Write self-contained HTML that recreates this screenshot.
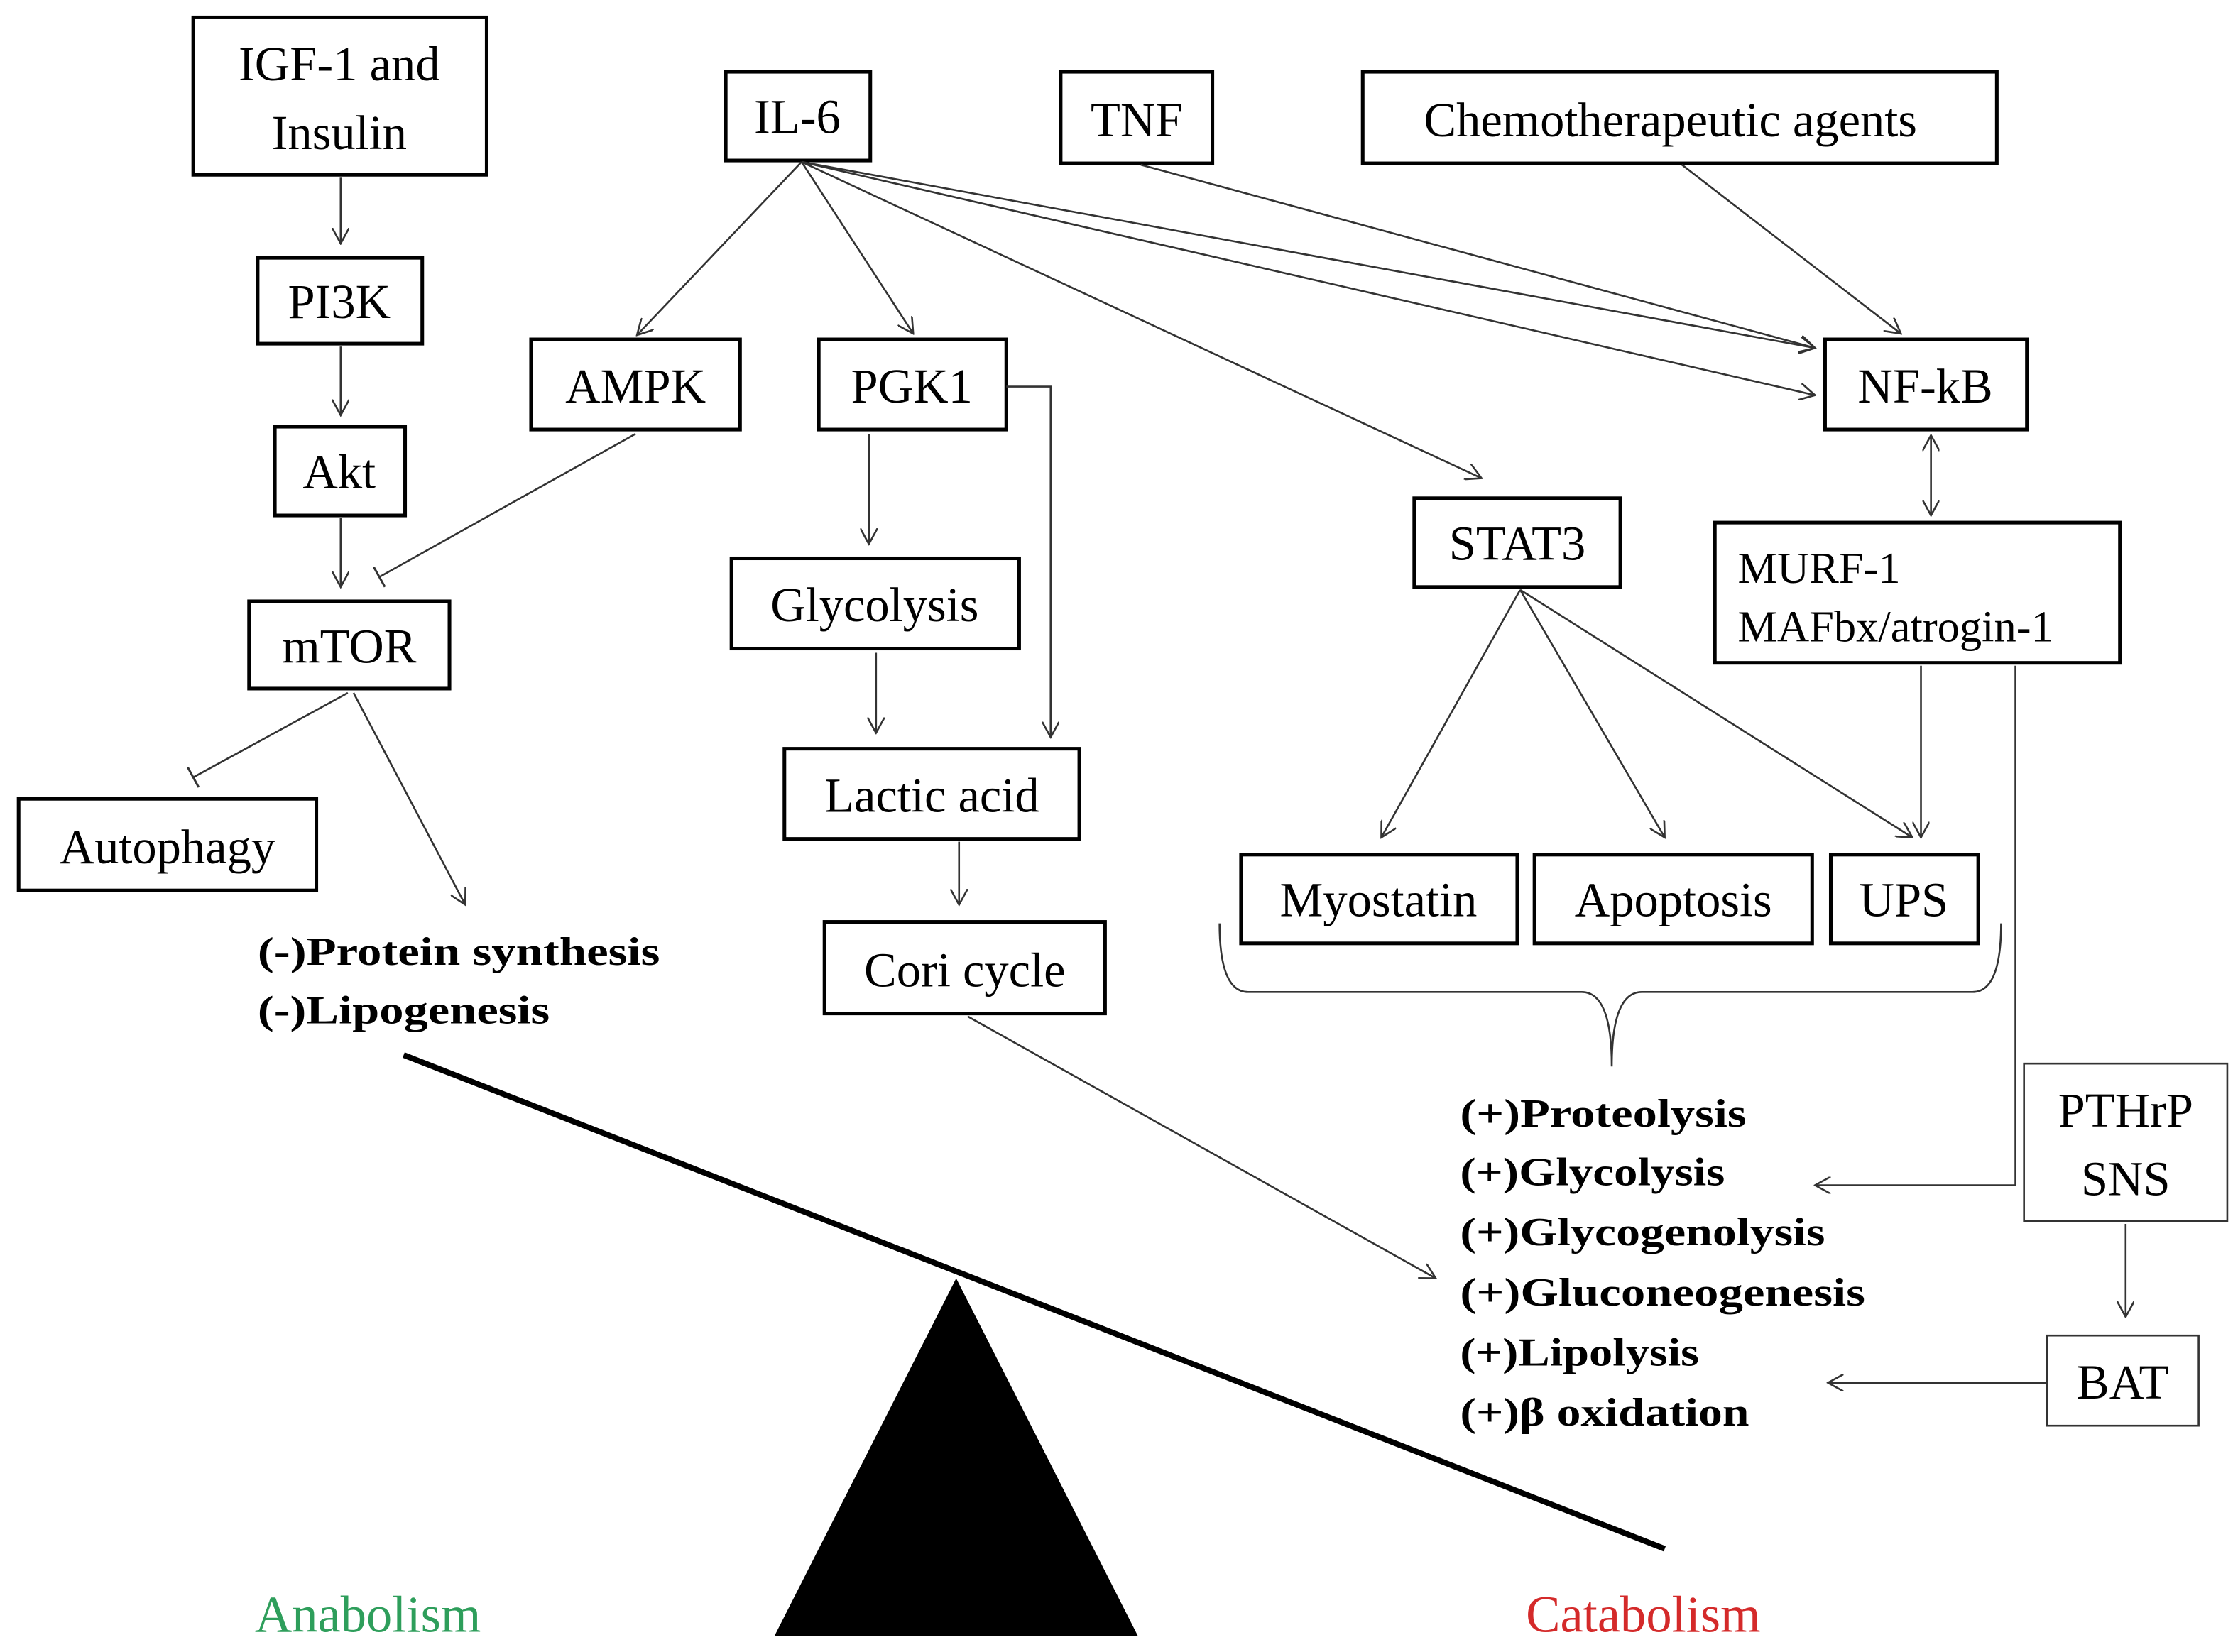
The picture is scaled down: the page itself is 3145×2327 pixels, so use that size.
<!DOCTYPE html>
<html><head><meta charset="utf-8"><style>
html,body{margin:0;padding:0;background:#fff;}
svg{display:block;}
text{font-family:"Liberation Serif",serif;fill:#000;}
</style></head><body>
<svg width="3145" height="2327" viewBox="0 0 1560 1154" xmlns="http://www.w3.org/2000/svg">
<defs>
<marker id="a" viewBox="0 0 12 12" refX="11" refY="6" markerWidth="12" markerHeight="12" markerUnits="userSpaceOnUse" orient="auto-start-reverse">
<path d="M0,0 L11,6 L0,12" fill="none" stroke="#333" stroke-width="1.3"/></marker>
<marker id="t" viewBox="0 0 4 16" refX="2" refY="8" markerWidth="4" markerHeight="16" markerUnits="userSpaceOnUse" orient="auto">
<path d="M2,0 L2,16" stroke="#333" stroke-width="1.5"/></marker>
</defs>
<g fill="none" stroke="#000" stroke-width="2.5">
<rect x="135" y="12" width="205" height="110"/>
<rect x="180" y="180" width="115" height="60"/>
<rect x="192" y="298" width="91" height="62"/>
<rect x="174" y="420" width="140" height="61"/>
<rect x="13" y="558" width="208" height="64"/>
<rect x="507" y="50" width="101" height="62"/>
<rect x="741" y="50" width="106" height="64"/>
<rect x="952" y="50" width="443" height="64"/>
<rect x="371" y="237" width="146" height="63"/>
<rect x="572" y="237" width="131" height="63"/>
<rect x="1275" y="237" width="141" height="63"/>
<rect x="988" y="348" width="144" height="62"/>
<rect x="1198" y="365" width="283" height="98"/>
<rect x="511" y="390" width="201" height="63"/>
<rect x="548" y="523" width="206" height="63"/>
<rect x="576" y="644" width="196" height="64"/>
<rect x="867" y="597" width="193" height="62"/>
<rect x="1072" y="597" width="194" height="62"/>
<rect x="1279" y="597" width="103" height="62"/>
</g>
<g fill="none" stroke="#333" stroke-width="1.3">
<rect x="1414" y="743" width="142" height="110"/>
<rect x="1430" y="933" width="106" height="63"/>
</g>
<g stroke="#333" stroke-width="1.3" fill="none">
<line x1="238" y1="124" x2="238" y2="170" marker-end="url(#a)"/>
<line x1="238" y1="242" x2="238" y2="290" marker-end="url(#a)"/>
<line x1="238" y1="362" x2="238" y2="410" marker-end="url(#a)"/>
<line x1="444" y1="303" x2="265" y2="403" marker-end="url(#t)"/>
<line x1="243" y1="484" x2="135" y2="543" marker-end="url(#t)"/>
<line x1="247" y1="484" x2="325" y2="632" marker-end="url(#a)"/>
<line x1="560" y1="113" x2="445" y2="234" marker-end="url(#a)"/>
<line x1="560" y1="113" x2="638" y2="233" marker-end="url(#a)"/>
<line x1="560" y1="113" x2="1035" y2="334" marker-end="url(#a)"/>
<line x1="560" y1="113" x2="1268" y2="243" marker-end="url(#a)"/>
<line x1="560" y1="113" x2="1268" y2="276" marker-end="url(#a)"/>
<line x1="797" y1="115" x2="1268" y2="243" marker-end="url(#a)"/>
<line x1="1175" y1="115" x2="1328" y2="233" marker-end="url(#a)"/>
<polyline points="703,270 734,270 734,515" marker-end="url(#a)"/>
<line x1="607" y1="303" x2="607" y2="380" marker-end="url(#a)"/>
<line x1="612" y1="456" x2="612" y2="512" marker-end="url(#a)"/>
<line x1="670" y1="588" x2="670" y2="632" marker-end="url(#a)"/>
<line x1="676" y1="710" x2="1003" y2="893" marker-end="url(#a)"/>
<line x1="1349" y1="304" x2="1349" y2="360" marker-start="url(#a)" marker-end="url(#a)"/>
<line x1="1062" y1="412" x2="965" y2="585" marker-end="url(#a)"/>
<line x1="1062" y1="412" x2="1163" y2="585" marker-end="url(#a)"/>
<line x1="1062" y1="412" x2="1336" y2="585" marker-end="url(#a)"/>
<line x1="1342" y1="465" x2="1342" y2="585" marker-end="url(#a)"/>
<polyline points="1408,465 1408,828 1268,828" marker-end="url(#a)"/>
<line x1="1485" y1="855" x2="1485" y2="920" marker-end="url(#a)"/>
<line x1="1430" y1="966" x2="1277" y2="966" marker-end="url(#a)"/>
<path d="M852,645 Q852,693 872,693 L1105,693 Q1126,693 1126,745 Q1126,693 1147,693 L1378,693 Q1398,693 1398,645"/>
</g>
<line x1="282" y1="737" x2="1163" y2="1082" stroke="#000" stroke-width="4"/>
<polygon points="668,893 541,1143 795,1143" fill="#000"/>
<g font-size="34" text-anchor="middle">
<text x="237" y="56">IGF-1 and</text>
<text x="237" y="104">Insulin</text>
<text x="237" y="222">PI3K</text>
<text x="237" y="341">Akt</text>
<text x="244" y="463">mTOR</text>
<text x="117" y="603">Autophagy</text>
<text x="557" y="93">IL-6</text>
<text x="794" y="95">TNF</text>
<text x="1167" y="95">Chemotherapeutic agents</text>
<text x="444" y="281">AMPK</text>
<text x="637" y="281">PGK1</text>
<text x="1345" y="281">NF-kB</text>
<text x="1060" y="391">STAT3</text>
<text x="611" y="434">Glycolysis</text>
<text x="651" y="567">Lactic acid</text>
<text x="674" y="689">Cori cycle</text>
<text x="963" y="640">Myostatin</text>
<text x="1169" y="640">Apoptosis</text>
<text x="1330" y="640">UPS</text>
<text x="1485" y="787">PTHrP</text>
<text x="1485" y="835">SNS</text>
<text x="1483" y="977">BAT</text>
</g>
<g font-size="31">
<text x="1214" y="407">MURF-1</text>
<text x="1214" y="448">MAFbx/atrogin-1</text>
</g>
<g font-size="28" font-weight="bold" lengthAdjust="spacingAndGlyphs">
<text x="180" y="674" textLength="281" lengthAdjust="spacingAndGlyphs">(-)Protein synthesis</text>
<text x="180" y="715" textLength="204" lengthAdjust="spacingAndGlyphs">(-)Lipogenesis</text>
<text x="1020" y="787" textLength="200" lengthAdjust="spacingAndGlyphs">(+)Proteolysis</text>
<text x="1020" y="828" textLength="185" lengthAdjust="spacingAndGlyphs">(+)Glycolysis</text>
<text x="1020" y="870" textLength="255" lengthAdjust="spacingAndGlyphs">(+)Glycogenolysis</text>
<text x="1020" y="912" textLength="283" lengthAdjust="spacingAndGlyphs">(+)Gluconeogenesis</text>
<text x="1020" y="954" textLength="167" lengthAdjust="spacingAndGlyphs">(+)Lipolysis</text>
<text x="1020" y="996" textLength="202" lengthAdjust="spacingAndGlyphs">(+)β oxidation</text>
</g>
<text x="178" y="1140" font-size="36" style="fill:#2e9e5b">Anabolism</text>
<text x="1066" y="1140" font-size="36" style="fill:#d42a2a">Catabolism</text>
</svg>
</body></html>
